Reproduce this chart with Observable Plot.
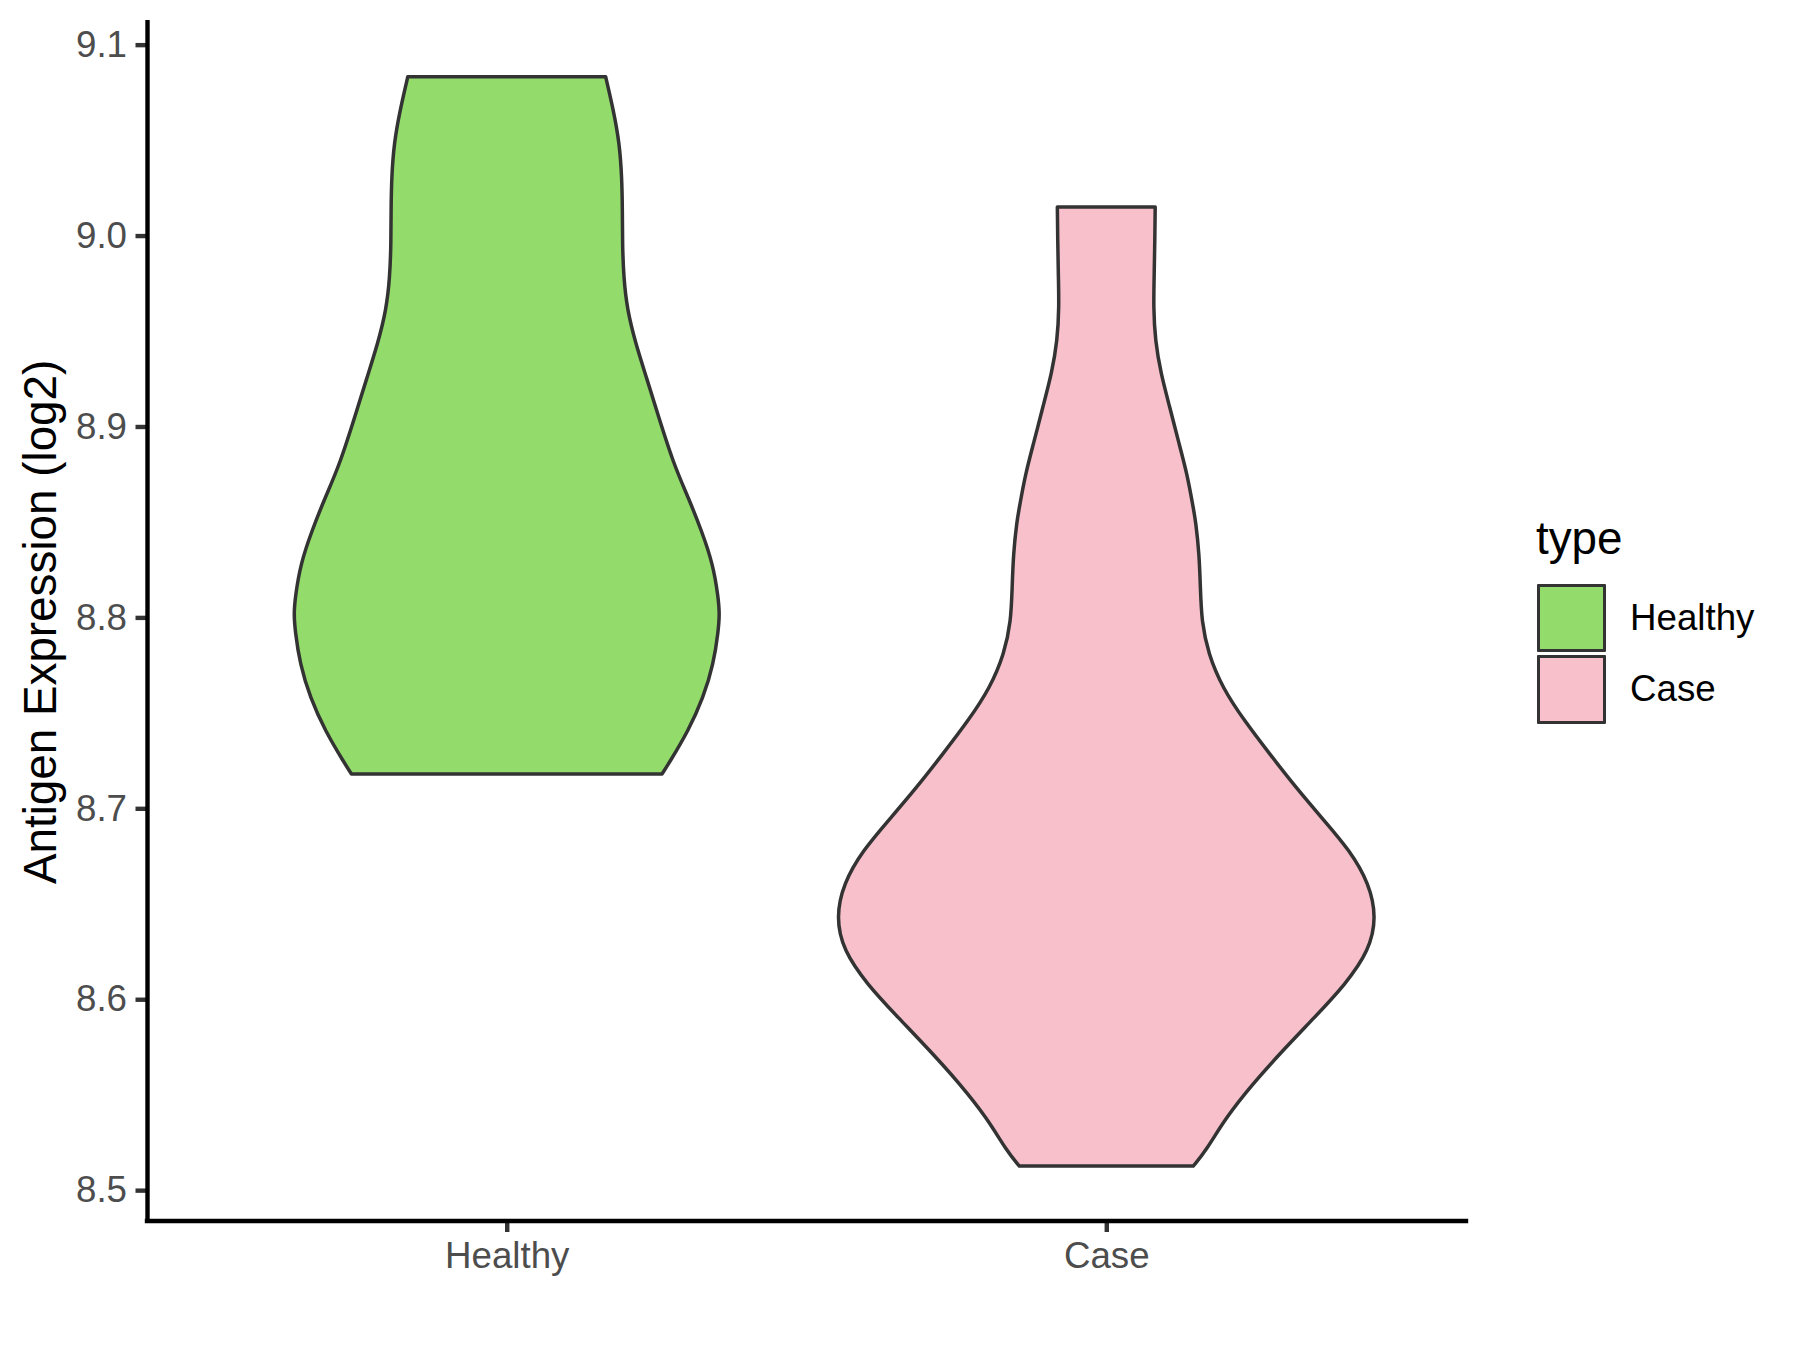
<!DOCTYPE html>
<html>
<head>
<meta charset="utf-8">
<script src="https://cdn.jsdelivr.net/npm/d3@7"></script>
<script src="https://cdn.jsdelivr.net/npm/@observablehq/plot@0.6"></script>
<style>
  html, body { margin: 0; padding: 0; background: #ffffff; overflow: hidden; }
  #wrap { position: relative; width: 1800px; height: 1350px; font-family: "Liberation Sans", Arial, sans-serif; }
  .lg { position: absolute; line-height: 1; white-space: nowrap; color: #000; }
  .key { position: absolute; box-sizing: border-box; border: 3.5px solid #333333; border-radius: 1px; }
</style>
</head>
<body>
<div id="wrap"></div>
<script>
// ---- data ----
const categories = ["Healthy", "Case"];
const fillColors = ["#93DC6B", "#F7C0CB"];
const yTicks = [8.5, 8.6, 8.7, 8.8, 8.9, 9.0, 9.1];
const yTitle = "Antigen Expression (log2)";
const legendTitle = "type";

// violin outline: expression value and half-width (in category units)
const healthyValue = [9.0832, 9.0657, 9.0484, 9.0306, 9.0133, 8.9960, 8.9780, 8.9610, 8.9435, 8.9257, 8.9084, 8.8805, 8.8627, 8.8454, 8.8280, 8.8102, 8.8018, 8.7930, 8.7757, 8.7580, 8.7406, 8.7233, 8.7180];
const healthyHalfWidth = [0.165, 0.178, 0.188, 0.192, 0.193, 0.193, 0.195, 0.201, 0.215, 0.233, 0.250, 0.278, 0.303, 0.325, 0.344, 0.353, 0.355, 0.353, 0.345, 0.328, 0.303, 0.270, 0.259];
const caseValue = [9.0150, 8.9975, 8.9800, 8.9624, 8.9450, 8.9277, 8.9100, 8.8926, 8.8750, 8.8575, 8.8507, 8.8333, 8.8155, 8.7980, 8.7810, 8.7630, 8.7460, 8.7287, 8.7110, 8.6937, 8.6780, 8.6606, 8.6428, 8.6255, 8.6080, 8.5903, 8.5730, 8.5556, 8.5378, 8.5205, 8.5126];
const caseHalfWidth = [0.0816, 0.0810, 0.0800, 0.0787, 0.0816, 0.0910, 0.1060, 0.1200, 0.1350, 0.1450, 0.1490, 0.1550, 0.1570, 0.1590, 0.1700, 0.1940, 0.2300, 0.2720, 0.3160, 0.3630, 0.4060, 0.4385, 0.4507, 0.4385, 0.3995, 0.3468, 0.2940, 0.2440, 0.1990, 0.1660, 0.1450];

// ---- table for the library ----
const groups = [[healthyValue, healthyHalfWidth], [caseValue, caseHalfWidth]];
const rows = [];
categories.forEach((c, i) => {
  const [vals, hws] = groups[i];
  vals.forEach((v, j) => rows.push({type: c, pos: i + 1, value: v, hw: hws[j]}));
});

const yLo = 8.4841, yHi = 9.1117;

const chart = Plot.plot({
  width: 1800,
  height: 1350,
  marginLeft: 147,
  marginRight: 334,
  marginTop: 22.3,
  marginBottom: 129.5,
  style: {fontFamily: '"Liberation Sans", Arial, sans-serif', background: "#ffffff", overflow: "visible"},
  x: {domain: [0.4, 2.6], axis: null},
  y: {domain: [yLo, yHi], axis: null},
  color: {domain: categories, range: fillColors},
  marks: [
    Plot.areaX(rows, {
      y: "value",
      x1: d => d.pos - d.hw,
      x2: d => d.pos + d.hw,
      z: "type",
      fill: "type",
      stroke: "#333333",
      strokeWidth: 3.5,
      strokeLinejoin: "round",
      curve: "basis"
    }),
    Plot.axisY({
      ticks: yTicks,
      tickFormat: d3.format(".1f"),
      tickSize: 11.5,
      tickPadding: 9,
      fontSize: 36.7,
      stroke: "#333333",
      fill: "#4d4d4d",
      strokeWidth: 4.4,
      label: null
    }),
    Plot.axisX({
      ticks: [1, 2],
      tickFormat: d => categories[d - 1],
      tickSize: 11.5,
      tickPadding: 9,
      fontSize: 36.7,
      stroke: "#333333",
      fill: "#4d4d4d",
      strokeWidth: 4.4,
      label: null
    }),
    Plot.ruleX([0.4], {stroke: "#000000", strokeWidth: 4.4, strokeLinecap: "square"}),
    Plot.ruleY([yLo], {stroke: "#000000", strokeWidth: 4.4, strokeLinecap: "square"}),
    Plot.text([yTitle], {
      text: d => d,
      frameAnchor: "left",
      textAnchor: "middle",
      rotate: -90,
      dx: -106,
      fontSize: 45.8,
      fill: "#000000"
    })
  ]
});

const wrap = document.getElementById("wrap");
wrap.appendChild(chart);

// ---- legend ----
function addDiv(cls, css, text) {
  const el = document.createElement("div");
  el.className = cls;
  Object.assign(el.style, css);
  if (text != null) el.textContent = text;
  wrap.appendChild(el);
  return el;
}
addDiv("lg", {left: "1536px", top: "516px", fontSize: "45.8px"}, legendTitle);
categories.forEach((c, i) => {
  const top = 583.5 + i * 71.5;
  addDiv("key", {left: "1537px", top: top + "px", width: "69px", height: "68.5px", background: fillColors[i]});
  addDiv("lg", {left: "1630px", top: (top + 16.3) + "px", fontSize: "36.7px"}, c);
});
</script>
</body>
</html>
